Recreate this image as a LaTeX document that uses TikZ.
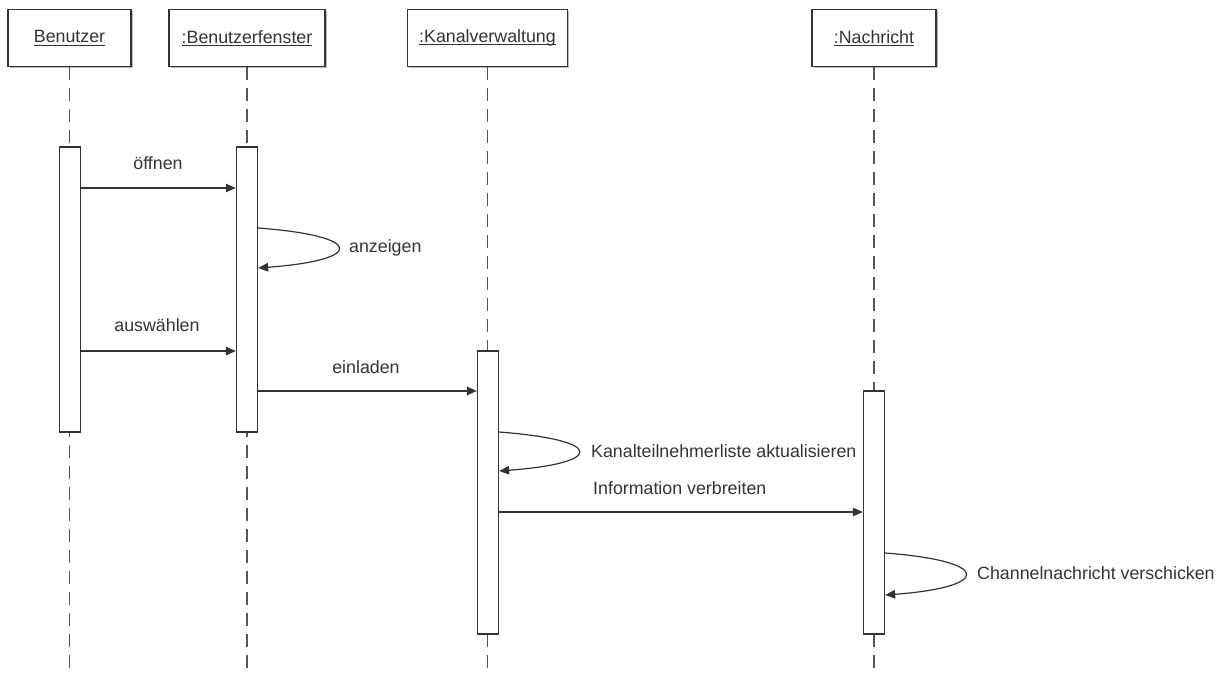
\documentclass[tikz,border=0pt]{standalone}
\usepackage{fontspec}
\setmainfont{Liberation Sans}
\usetikzlibrary{arrows.meta,shadows}
\definecolor{ink}{HTML}{333333}
\definecolor{life}{HTML}{555555}
% underlined object name with a fixed rule position
\newcommand\uname[1]{\setbox0\hbox{#1}\rlap{\rule[-2.6pt]{\wd0}{0.9pt}}\box0}
\begin{document}
\begin{tikzpicture}[x=1pt,y=-1pt,
  font=\fontsize{17.8}{20}\selectfont,
  txt/.style={text=ink, inner sep=0pt},
  party/.style={draw=ink, line width=1.3pt, fill=white, inner sep=0pt,
    text=ink, minimum height=57pt,
    drop shadow={shadow xshift=1.6pt, shadow yshift=-1.6pt, opacity=0.45, fill=black!60}},
  act/.style={draw=ink, line width=1.3pt, fill=white, inner sep=0pt, minimum width=21pt},
  lifeline/.style={draw=life, line width=1.3pt, dash pattern=on 13pt off 8pt},
  msg/.style={draw=ink, line width=1.2pt, -{Triangle[length=10pt,width=8.5pt]}}
]
\useasboundingbox (0,0) rectangle (1226,673);
\coordinate (bot) at (0,673);

% object boxes
\node[party, minimum width=123pt] (p1) at (69.5,38) {\uname{Benutzer}};
\node[party, minimum width=156pt] (p2) at (247,38) {\uname{:Benutzerfenster}};
\node[party, minimum width=160pt] (p3) at (487.5,38) {\uname{:Kanalverwaltung}};
\node[party, minimum width=124pt] (p4) at (874,38) {\uname{:Nachricht}};

% lifelines
\foreach \p in {p1,p2,p3,p4}
  \draw[lifeline] (\p.south) -- (\p.south |- bot);

% activation bars
\node[act, minimum height=285pt] (a1) at (70,289.5) {};
\node[act, minimum height=285pt] (a2) at (247,289.5) {};
\node[act, minimum height=283pt] (a3) at (488,492.5) {};
\node[act, minimum height=243pt] (a4) at (874,512.5) {};

% message levels
\coordinate (m1) at (0,188);
\coordinate (s1a) at (0,228);
\coordinate (s1b) at (0,268);
\coordinate (m2) at (0,351);
\coordinate (m3) at (0,391);
\coordinate (s2a) at (0,432);
\coordinate (s2b) at (0,471);
\coordinate (m4) at (0,512);
\coordinate (s3a) at (0,553);
\coordinate (s3b) at (0,595);

% messages
\draw[msg] (a1.east |- m1) -- (a2.west |- m1);
\node[txt] (t1) at (158,163) {öffnen};

\draw[msg] (a2.east |- s1a) .. controls +(107,8) and +(107,-8) .. (a2.east |- s1b);
\node[txt, anchor=west] (t2) at (349,248) {anzeigen};

\draw[msg] (a1.east |- m2) -- (a2.west |- m2);
\node[txt] (t3) at (157,325) {auswählen};

\draw[msg] (a2.east |- m3) -- (a3.west |- m3);
\node[txt] (t4) at (366,367) {einladen};

\draw[msg] (a3.east |- s2a) .. controls +(106,8) and +(106,-8) .. (a3.east |- s2b);
\node[txt, anchor=west] (t5) at (591,451) {Kanalteilnehmerliste aktualisieren};

\draw[msg] (a3.east |- m4) -- (a4.west |- m4);
\node[txt, anchor=west] (t6) at (593,488) {Information verbreiten};

\draw[msg] (a4.east |- s3a) .. controls +(107,8) and +(107,-8) .. (a4.east |- s3b);
\node[txt, anchor=west] (t7) at (977,573) {Channelnachricht verschicken};
\end{tikzpicture}
\end{document}
